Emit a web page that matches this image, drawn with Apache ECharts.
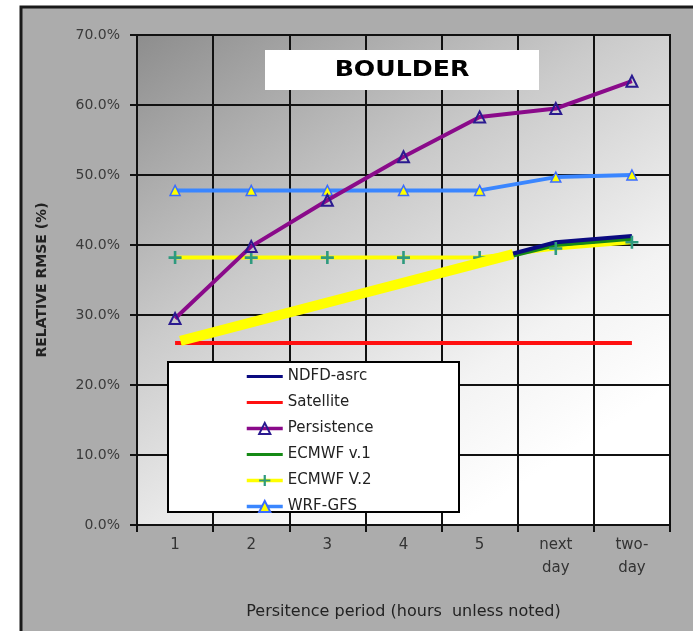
<!DOCTYPE html>
<html><head><meta charset="utf-8">
<script src="https://cdn.jsdelivr.net/npm/echarts@6/dist/echarts.min.js"></script>
<style>html,body{margin:0;padding:0;background:#fff}#c{width:693px;height:631px}</style>
</head><body><div id="c"></div>
<script>
const categories = ['1','2','3','4','5','next\nday','two-\nday'];
const ndfd        = [null, null, null, null, 37.5, 40.4, 41.3];
const satellite   = [26.0, 26.0, 26.0, 26.0, 26.0, 26.0, 26.0];
const persistence = [29.5, 39.8, 46.4, 52.6, 58.3, 59.5, 63.4];
const ecmwf1      = [null, null, null, null, 37.3, 40.0, 40.9];
const ecmwf2      = [38.2, 38.2, 38.2, 38.2, 38.2, 39.5, 40.4];
const wrf         = [47.8, 47.8, 47.8, 47.8, 47.8, 49.7, 50.0];
// thick yellow highlight stroke (position in category units, value in %)
const highlightX = [0.57, 4.94];
const highlightY = [26.3, 38.7];
const yMin = 0, yMax = 70, yStep = 10;

const FONT = 'DejaVu Sans';
const chart = echarts.init(document.getElementById('c'), null, {renderer:'canvas'});
const plus = 'path://M4,0H6V4H10V6H6V10H4V6H0V4H4Z';
const bar = 'path://M0,0M0,5.5H36V8.5H0ZM36,14';

chart.setOption({
  animation: false,
  backgroundColor: '#ffffff',
  graphic: [
    {type:'rect', z:-10, shape:{x:21, y:7, width:720, height:700},
     style:{fill:'#acacac', stroke:'#1a1a1a', lineWidth:3}},
    {type:'rect', z:20, shape:{x:265, y:50, width:274, height:40},
     style:{fill:'#ffffff'}},
    {type:'text', z:21, x:402, y:71, scaleX:1.2, originX:0, originY:0,
     style:{text:'BOULDER', font:'bold 21px "DejaVu Sans"', fill:'#000', align:'center', verticalAlign:'middle'}},
    {type:'rect', z:20, shape:{x:168, y:362, width:291, height:150},
     style:{fill:'#ffffff', stroke:'#000', lineWidth:2}}
  ],
  legend: {
    z: 30,
    orient: 'vertical',
    left: 168, top: 363,
    padding: [6, 10, 6, 77],
    itemWidth: 36, itemHeight: 14, itemGap: 11,
    lineStyle: {width: 3.5},
    textStyle: {fontFamily: FONT, fontSize: 15, color: '#222'},
    data: [
      {name:'NDFD-asrc', icon: bar},
      {name:'Satellite', icon: bar},
      'Persistence',
      {name:'ECMWF v.1', icon: bar},
      'ECMWF V.2',
      'WRF-GFS'
    ]
  },
  grid: {
    left: 137, right: 23, top: 35, bottom: 106,
    show: true, borderWidth: 2, borderColor: '#111',
    backgroundColor: {type:'linear', x:0, y:0, x2:0.6, y2:1,
      colorStops:[{offset:0,color:'#8d8d8d'},{offset:0.45,color:'#cbcbcb'},{offset:0.8,color:'#f3f3f3'},{offset:1,color:'#ffffff'}]}
  },
  xAxis: [{
    type: 'category', data: categories, boundaryGap: true,
    axisLine: {lineStyle: {color:'#111', width:2}},
    axisTick: {show:true, length:7, lineStyle:{color:'#111', width:2}},
    splitLine: {show:true, lineStyle:{color:'#111', width:2}},
    axisLabel: {margin: 9, fontFamily: FONT, fontSize: 15, color: '#333', lineHeight: 23},
    name: 'Persitence period (hours  unless noted)',
    nameLocation: 'middle', nameGap: 79,
    nameTextStyle: {fontFamily: FONT, fontSize: 16, color: '#222'}
  }, {
    type: 'value', min: 0, max: 7, show: false
  }],
  yAxis: {
    type: 'value', min: yMin, max: yMax, interval: yStep,
    axisLine: {show:true, lineStyle: {color:'#111', width:2}},
    axisTick: {show:true, length:7, lineStyle:{color:'#111', width:2}},
    splitLine: {show:true, lineStyle:{color:'#111', width:2}},
    axisLabel: {margin: 17, fontFamily: FONT, fontSize: 14, color: '#3a3a3a',
      formatter: v => v.toFixed(1) + '%'},
    name: 'RELATIVE RMSE (%)', nameLocation: 'middle', nameGap: 88, nameRotate: 90,
    nameTextStyle: {fontFamily: FONT, fontSize: 14, fontWeight: 'bold', color: '#222'}
  },
  series: [
    {name:'Satellite', type:'line', data:satellite, symbol:'none',
     lineStyle:{color:'#ff1010', width:4}, itemStyle:{color:'#ff1010'}},
    {name:'WRF-GFS', type:'line', data:wrf, symbol:'triangle', symbolSize:10,
     lineStyle:{color:'#3a86ff', width:4},
     itemStyle:{color:'#ffff00', borderColor:'#3a6cff', borderWidth:1.5}},
    {name:'ECMWF V.2', type:'line', data:ecmwf2, symbol:plus, symbolSize:13,
     lineStyle:{color:'#ffff00', width:4}, itemStyle:{color:'#2e9a7e'}},
    {name:'ECMWF v.1', type:'line', data:ecmwf1, symbol:'none',
     lineStyle:{color:'#168a16', width:4}, itemStyle:{color:'#168a16'}},
    {name:'NDFD-asrc', type:'line', data:ndfd, symbol:'none',
     lineStyle:{color:'#0a0a80', width:4}, itemStyle:{color:'#0a0a80'}},
    {name:'Persistence', type:'line', data:persistence, symbol:'triangle', symbolSize:11, z:4,
     lineStyle:{color:'#8a0a8a', width:4},
     itemStyle:{color:'rgba(255,255,255,0)', borderColor:'#2a1a90', borderWidth:2}},
    {name:'highlight', type:'line', xAxisIndex:1, z:6, symbol:'none',
     data: highlightX.map((x,i) => [x, highlightY[i]]),
     lineStyle:{color:'#ffff00', width:10, cap:'butt'}}
  ]
});
</script></body></html>
